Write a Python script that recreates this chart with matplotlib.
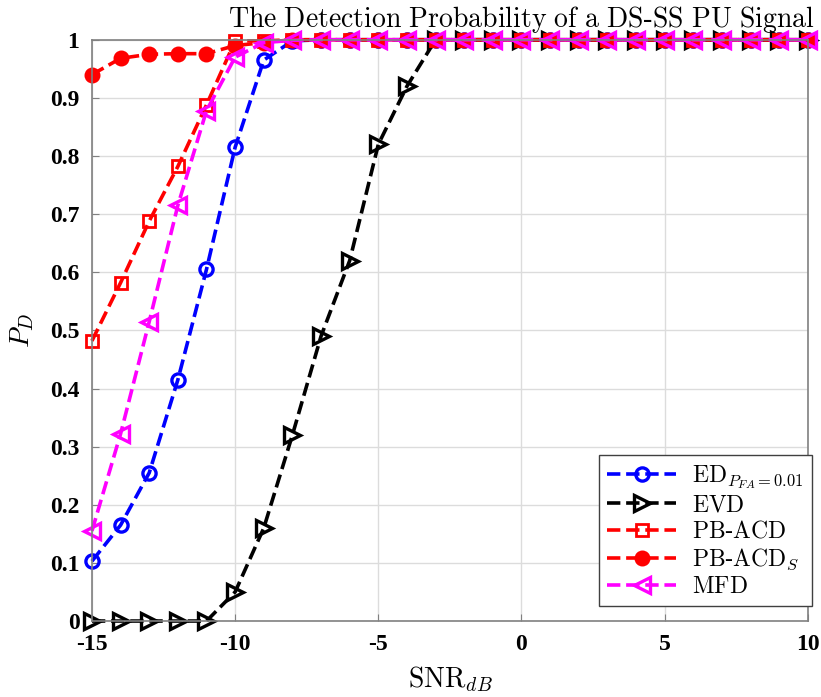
import matplotlib
matplotlib.use("Agg")
import matplotlib.pyplot as plt
import numpy as np

plt.rcParams['mathtext.fontset'] = 'cm'
plt.rcParams['axes.unicode_minus'] = False
plt.rcParams['font.family'] = ['Liberation Serif', 'DejaVu Serif']

snr = np.arange(-15, 11)
ed = [0.103, 0.165, 0.255, 0.415, 0.605, 0.815, 0.965, 0.998] + [1.0] * 18
evd = [0, 0, 0, 0, 0, 0.05, 0.16, 0.32, 0.49, 0.62, 0.82, 0.92, 1.0] + [1.0] * 13
pbacd = [0.482, 0.582, 0.688, 0.782, 0.888, 0.998, 0.998] + [1.0] * 19
pbacd_s = [0.94, 0.968, 0.975, 0.976, 0.976, 0.99, 0.995] + [1.0] * 19
mfd = [0.155, 0.322, 0.515, 0.715, 0.878, 0.97, 0.995, 0.999] + [1.0] * 18

fig = plt.figure(figsize=(8.21, 6.97), dpi=100)
ax = fig.add_axes([0.112, 0.109, 0.872, 0.834])

lw = 2.6
ax.plot(snr, ed, '--', color='blue', lw=lw, marker='o', ms=9.5, mfc='none', mew=2.4,
        label=r'$\mathrm{ED}_{P_{FA}=0.01}$', clip_on=False)
ax.plot(snr, evd, '--', color='black', lw=lw, marker='>', ms=11, mfc='none', mew=2.4,
        label=r'$\mathrm{EVD}$', clip_on=False)
ax.plot(snr, pbacd, '--', color='red', lw=lw, marker='s', ms=8, mfc='none', mew=2.0,
        label=r'$\mathrm{PB}$-$\mathrm{ACD}$', clip_on=False)
ax.plot(snr, pbacd_s, '--', color='red', lw=lw, marker='o', ms=10, mfc='red', mew=1.5,
        label=r'$\mathrm{PB}$-$\mathrm{ACD}_S$', clip_on=False)
ax.plot(snr, mfd, '--', color='magenta', lw=lw, marker='<', ms=12, mfc='none', mew=2.4,
        label=r'$\mathrm{MFD}$', clip_on=False)

ax.set_xlim(-15, 10)
ax.set_ylim(0, 1)
ax.set_xticks(np.arange(-15, 11, 5))
ax.set_yticks(np.arange(0, 1.01, 0.1))
ax.set_yticklabels(['0'] + ['%.1f' % v for v in np.arange(0.1, 0.95, 0.1)] + ['1'])
ax.grid(True, color='#dcdcdc', lw=1)
ax.set_axisbelow(True)
for s in ax.spines.values():
    s.set_color('#808080')
    s.set_linewidth(1.2)
ax.tick_params(direction='in', length=5, color='#808080', labelsize=17)
ax.tick_params(axis='x', pad=9)
ax.tick_params(axis='y', pad=9)
for lab in ax.get_xticklabels() + ax.get_yticklabels():
    lab.set_fontweight('bold')

ax.set_title(r'$\mathrm{The\ Detection\ Probability\ of\ a\ DS}$-$\mathrm{SS\ PU\ Signal}$',
             fontsize=20, pad=9, x=0.6)
ax.set_xlabel(r'$\mathrm{SNR}_{dB}$', fontsize=20, labelpad=7)
ax.set_ylabel(r'$P_D$', fontsize=20, labelpad=10)

leg = ax.legend(loc='lower right', bbox_to_anchor=(1.006, 0.025), fontsize=17,
                frameon=True, fancybox=False, edgecolor='#404040', framealpha=1,
                handlelength=2.9, borderpad=0.35, labelspacing=0.18,
                handletextpad=0.7, borderaxespad=0.0)
leg.get_frame().set_linewidth(1.0)

fig.savefig('out.png', dpi=100)
